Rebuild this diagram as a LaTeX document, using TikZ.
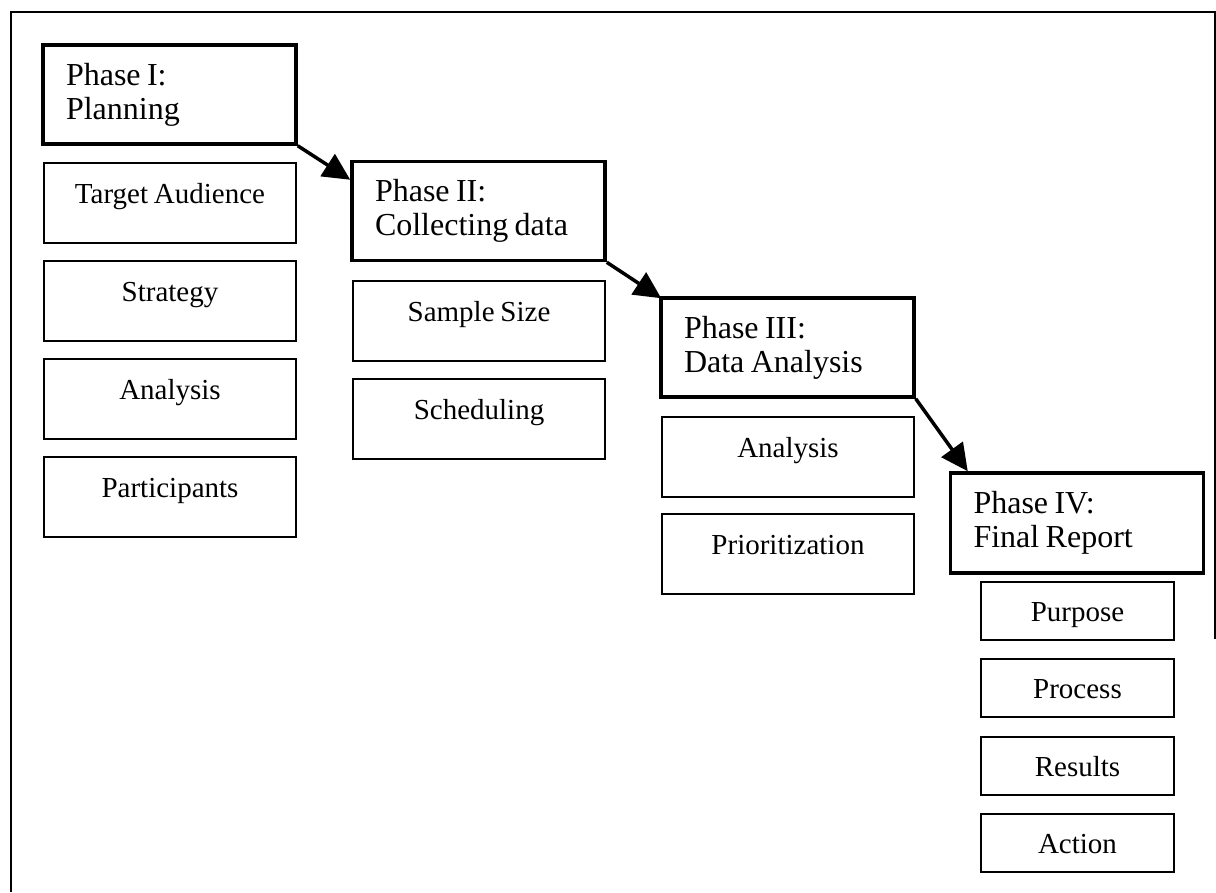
\documentclass[tikz,border=0pt]{standalone}
\usepackage{fontspec}
\setmainfont{Liberation Serif}[WordSpace=0.8]
\usetikzlibrary{arrows.meta}
\tikzset{
  phasebox/.style={draw, line width=3.5pt, minimum width=253pt, minimum height=99pt,
    inner sep=0pt, text width=207pt, align=left,
    execute at begin node={\spaceskip=0pt\xspaceskip=0pt\relax},
    font=\fontsize{32}{34}\selectfont},
  subbox/.style={draw, line width=2pt, minimum width=252pt, inner sep=0pt,
    anchor=north, text height=40pt, text depth=40pt,
    font=\fontsize{29}{32}\selectfont},
  smallbox/.style={draw, line width=2pt, minimum width=193pt, inner sep=0pt,
    anchor=north, text height=39pt, text depth=19pt,
    font=\fontsize{29}{32}\selectfont},
  flow/.style={line width=3.5pt, -{Triangle[length=27pt,width=26pt]}},
  frame/.style={line width=2pt}
}
\begin{document}
\begin{tikzpicture}[x=1pt,y=-1pt]
\useasboundingbox (0,0) rectangle (1216,892);
\draw[frame] (1215,639) -- (1215,12) -- (11,12) -- (11,892);

% Phase boxes
\node[phasebox] (p1) at (169.5,94.5) {Phase I:\\Planning};
\node[phasebox] (p2) at (478.5,211) {Phase II:\\Collecting data};
\node[phasebox] (p3) at (787.5,347.5) {Phase III:\\Data Analysis};
\node[phasebox, minimum height=100pt] (p4) at (1077,523) {Phase IV:\\Final Report};

% Phase I items
\node[subbox] (a1) at (170,162) {Target Audience};
\node[subbox] (a2) at (170,260) {Strategy};
\node[subbox] (a3) at (170,358) {Analysis};
\node[subbox] (a4) at (170,456) {Participants};

% Phase II items
\node[subbox] (b1) at (479,280) {Sample Size};
\node[subbox] (b2) at (479,378) {Scheduling};

% Phase III items
\node[subbox] (c1) at (788,416) {Analysis};
\node[subbox] (c2) at (788,513) {Prioritization};

% Phase IV items
\node[smallbox] (d1) at (1077.5,581) {Purpose};
\node[smallbox] (d2) at (1077.5,658) {Process};
\node[smallbox] (d3) at (1077.5,736) {Results};
\node[smallbox] (d4) at (1077.5,813) {Action};

% Arrows
\draw[flow] (p1.south east) -- ([yshift=-20pt]p2.north west);
\draw[flow] (p2.south east) -- ([xshift=2pt,yshift=-2pt]p3.north west);
\draw[flow] (p3.south east) -- ([xshift=19pt]p4.north west);
\end{tikzpicture}
\end{document}
